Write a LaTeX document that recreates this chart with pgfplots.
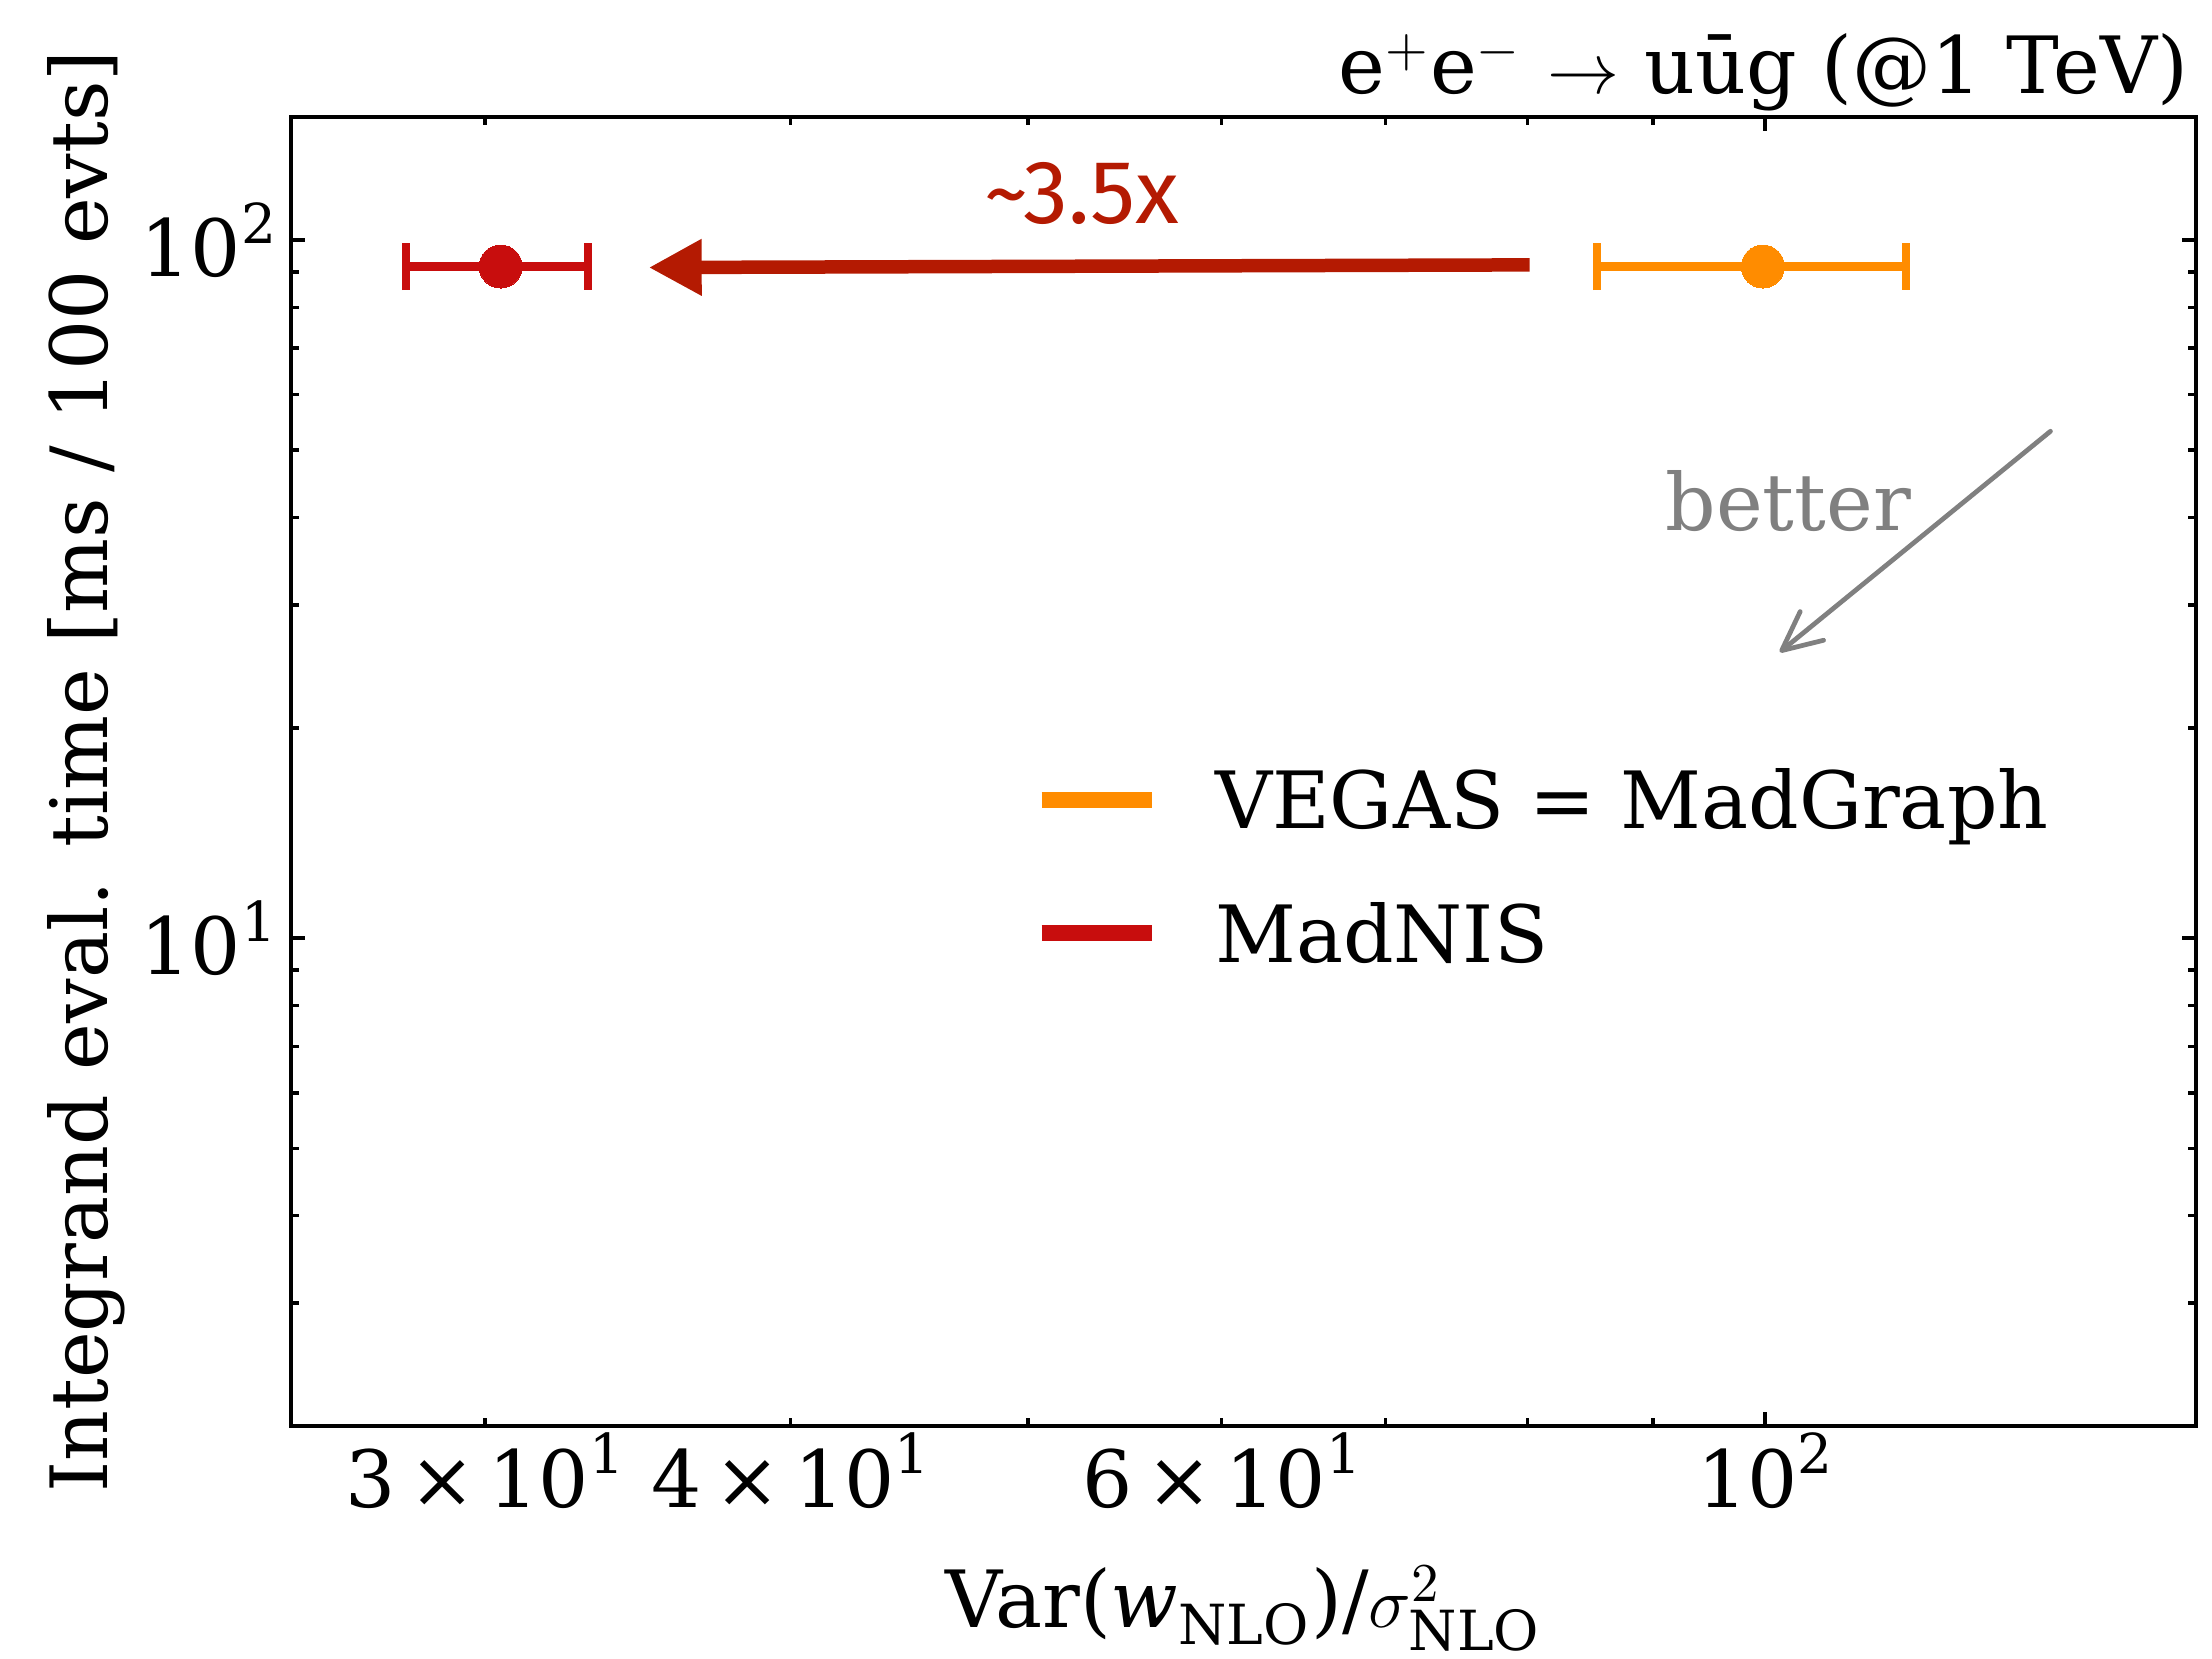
\documentclass[border=0pt]{standalone}
\usepackage{fontspec}
\setmainfont{DejaVu Serif}
\newfontfamily\annofont{Fira Sans}
\usepackage{pgfplots}
\pgfplotsset{compat=1.18}
\usetikzlibrary{arrows.meta}
\definecolor{vegasorange}{HTML}{FF8C00}
\definecolor{madnisred}{HTML}{C80D0D}
\definecolor{arrowred}{HTML}{B41A02}
\definecolor{bettergray}{HTML}{808080}
% superscript in the text font for tick labels
\newcommand\sups[1]{\raisebox{0.42em}{\fontsize{11pt}{11pt}\selectfont #1}}

\begin{document}
\fontsize{15.8pt}{19pt}\selectfont
\begin{tikzpicture}
\begin{axis}[
  xmode=log, ymode=log,
  scale only axis, width=381pt, height=261.8pt,
  xmin=25, xmax=150, ymin=2, ymax=150,
  axis line style={line width=0.65pt},
  tick style={line width=0.65pt, black},
  tick align=inside,
  major tick length=2.8pt, minor tick length=1.6pt,
  xtick={100}, xticklabels={10\sups{2}},
  extra x ticks={30,40,60},
  extra x tick labels={3\,×\,10\sups{1},4\,×\,10\sups{1},6\,×\,10\sups{1}},
  extra x tick style={major tick length=1.6pt},
  minor xtick={50,70,80,90},
  ytick={10,100}, yticklabels={10\sups{1},10\sups{2}},
  minor ytick={2,3,4,5,6,7,8,9,20,30,40,50,60,70,80,90},
  xticklabel style={anchor=base, inner sep=0pt, yshift=-16.2pt},
  yticklabel style={anchor=east, inner sep=0pt, xshift=-2.8pt},
  every axis title shift=0pt,
  title={e$^+$e$^-$ $\rightarrow$ uūg (@1 TeV)},
  title style={at={(rel axis cs:1,1)}, anchor=base east, inner sep=0pt, yshift=4.8pt, xshift=-1.4pt},
  xlabel={Var($\mathit{w}_{\mathrm{NLO}}$)/$\sigma^{2}_{\mathrm{NLO}}$},
  xlabel style={at={(axis description cs:0.5,-0.1543)}, anchor=base, inner sep=0pt},
  ylabel={Integrand eval. time [ms / 100 evts]},
  ylabel style={at={(axis description cs:-0.0966,0.5)}, anchor=base, inner sep=0pt},
  legend image code/.code={\draw[#1] (0pt,0pt) -- (22pt,0pt);},
  legend style={draw=none, fill=none, at={(rel axis cs:0.3893,0.5011)}, anchor=north west,
    inner sep=0pt, row sep=15.2pt, column sep=11.1pt,
    nodes={inner sep=0pt, text height=11.5pt, text depth=0pt}, cells={anchor=west}},
]
% VEGAS = MadGraph
\addplot[forget plot, only marks, mark=*, mark size=4.3pt, color=vegasorange,
  mark options={fill=vegasorange, draw=vegasorange, line width=0pt},
  error bars/.cd, x dir=both, x explicit,
  error bar style={line width=1.8pt, vegasorange},
  error mark options={line width=1.6pt, mark size=4.7pt, vegasorange, rotate=90}]
  coordinates {(99.8,91.6) +- (14.4,0)};
% MadNIS
\addplot[forget plot, only marks, mark=*, mark size=4.3pt, color=madnisred,
  mark options={fill=madnisred, draw=madnisred, line width=0pt},
  error bars/.cd, x dir=both, x explicit,
  error bar style={line width=1.8pt, madnisred},
  error mark options={line width=1.6pt, mark size=4.7pt, madnisred, rotate=90}]
  coordinates {(30.45,91.6) +- (2.6,0)};

\addlegendimage{vegasorange, line width=3.2pt}
\addlegendentry{VEGAS = MadGraph}
\addlegendimage{madnisred, line width=3.2pt}
\addlegendentry{MadNIS}

\draw[arrowred, line width=2.7pt, -{Triangle[length=10.6pt, width=10.6pt]}]
  (axis cs:80.15,92.1) -- (axis cs:35.0,91.3);
\node[arrowred, font=\annofont\fontsize{18pt}{21pt}\selectfont, anchor=base, inner sep=0pt]
  at (axis cs:52.6,105.4) {\textasciitilde3.5x};

\draw[bettergray, line width=0.95pt, line cap=round, -{Straight Barb[length=7.8pt, width=7.4pt, round]}]
  (axis cs:130.8,53.2) -- (axis cs:101.4,25.68);
\node[bettergray, anchor=base, inner sep=0pt] at (axis cs:102.2,38.35) {better};

\coordinate (sw) at (rel axis cs:0,0);
\coordinate (ne) at (rel axis cs:1,1);
\end{axis}
\pgfresetboundingbox
\path[use as bounding box] ([shift={(-58.2pt,-46.4pt)}]sw) rectangle ([shift={(3.2pt,23.4pt)}]ne);
\end{tikzpicture}
\end{document}
